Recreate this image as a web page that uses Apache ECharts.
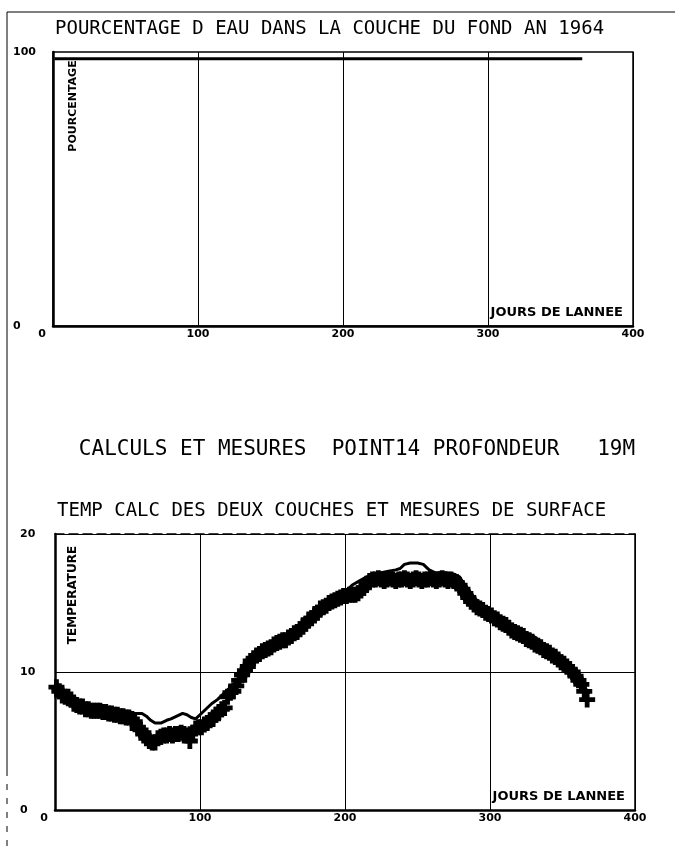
<!DOCTYPE html>
<html>
<head>
<meta charset="utf-8">
<script src="https://cdn.jsdelivr.net/npm/echarts@6/dist/echarts.min.js"></script>
<style>
html,body{margin:0;padding:0;background:#fff;}
#chartContainer{width:675px;height:848px;}
</style>
</head>
<body>
<div id="chartContainer"></div>
<script>
// pourcentage d'eau dans la couche du fond (jour, %)
var pourcentage=[[1,97.5],[100,97.5],[200,97.5],[300,97.5],[365,97.5]];

// temperature calculee (jour, degres)
var tempCalc=[[1,8.9],[5,8.4],[10,8.0],[15,7.7],[20,7.6],[25,7.4],[30,7.3],[35,7.2],[40,7.2],[45,7.1],
	[50,7.1],[55,7.0],[60,7.0],[63,6.8],[66,6.5],[69,6.3],[73,6.3],[77,6.5],[80,6.6],[84,6.8],
	[88,7.0],[91,6.9],[94,6.7],[97,6.6],[100,6.9],[104,7.3],[108,7.7],[112,8.0],[116,8.4],[120,8.8],
	[124,9.2],[128,9.7],[132,10.2],[136,10.8],[140,11.2],[145,11.6],[150,11.9],[155,12.2],[160,12.5],[165,12.8],
	[170,13.3],[175,13.8],[180,14.2],[185,14.7],[190,15.1],[195,15.5],[200,15.8],[205,16.3],[210,16.6],[215,16.9],
	[220,17.1],[225,17.2],[230,17.3],[235,17.4],[238,17.5],[241,17.8],[245,17.9],[250,17.9],[254,17.8],[258,17.4],
	[262,17.2],[266,17.2],[270,17.2],[275,17.1],[279,16.9],[282,16.4],[285,16.0],[289,15.4],[293,15.0],[297,14.7],
	[300,14.4],[305,14.0],[310,13.6],[315,13.3],[320,13.0],[325,12.8],[330,12.6],[335,12.2],[340,11.8],[345,11.4],
	[350,11.0],[355,10.5],[360,9.8],[365,9.0],[368,8.4]];

// mesures de surface (jour, degres)
var tempMesures=[[1,8.9],[3,8.6],[5,8.3],[7,8.2],[9,8.2],[11,8.0],[13,7.7],[15,7.6],[17,7.5],[19,7.5],
	[21,7.3],[23,7.3],[25,7.2],[27,7.2],[29,7.2],[31,7.2],[33,7.1],[35,7.1],[37,7.0],[39,7.0],
	[41,6.9],[43,6.9],[45,6.8],[47,6.8],[49,6.7],[51,6.7],[53,6.6],[55,6.4],[57,5.9],[59,5.8],
	[61,5.6],[63,5.2],[65,5.0],[67,4.9],[69,4.9],[71,5.2],[73,5.3],[75,5.4],[77,5.4],[79,5.5],
	[81,5.4],[83,5.5],[85,5.5],[87,5.6],[89,5.5],[91,5.4],[93,5.0],[95,5.6],[97,5.9],[99,6.0],
	[101,6.0],[103,6.2],[105,6.3],[107,6.5],[109,6.6],[111,6.9],[113,7.1],[115,7.3],[117,7.4],[119,8.2],
	[121,8.5],[123,8.6],[125,9.0],[127,9.4],[129,9.8],[131,10.1],[133,10.4],[135,10.8],[137,11.0],[139,11.2],
	[141,11.3],[143,11.5],[145,11.6],[147,11.7],[149,11.8],[151,12.0],[153,12.1],[155,12.2],[157,12.3],[159,12.3],
	[161,12.5],[163,12.6],[165,12.8],[167,12.9],[169,13.1],[171,13.3],[173,13.5],[175,13.8],[177,13.9],[179,14.1],
	[181,14.3],[183,14.6],[185,14.7],[187,14.8],[189,15.0],[191,15.1],[193,15.2],[195,15.3],[197,15.4],[199,15.5],
	[201,15.5],[203,15.6],[205,15.6],[207,15.6],[209,15.7],[211,15.9],[213,16.1],[215,16.4],[217,16.6],[219,16.7],
	[221,16.7],[223,16.8],[225,16.7],[227,16.6],[229,16.7],[231,16.8],[233,16.7],[235,16.6],[237,16.7],[239,16.7],
	[241,16.8],[243,16.7],[245,16.6],[247,16.7],[249,16.8],[251,16.7],[253,16.6],[255,16.7],[257,16.7],[259,16.8],
	[261,16.7],[263,16.6],[265,16.7],[267,16.8],[269,16.7],[271,16.6],[273,16.7],[275,16.6],[277,16.5],[279,16.3],
	[281,16.0],[283,15.7],[285,15.4],[287,15.1],[289,14.9],[291,14.7],[293,14.6],[295,14.5],[297,14.3],[299,14.2],
	[301,14.1],[303,13.9],[305,13.8],[307,13.6],[309,13.5],[311,13.4],[313,13.2],[315,13.0],[317,12.9],[319,12.8],
	[321,12.7],[323,12.6],[325,12.4],[327,12.3],[329,12.2],[331,12.0],[333,11.9],[335,11.8],[337,11.6],[339,11.5],
	[341,11.4],[343,11.2],[345,11.1],[347,10.9],[349,10.7],[351,10.6],[353,10.4],[355,10.2],[357,10.0],[359,9.7],
	[361,9.4],[363,9.1],[365,8.6],[367,8.0]];

var joursTicks=[0,100,200,300,400];

var titreHaut='POURCENTAGE D EAU DANS LA COUCHE DU FOND AN 1964';
var titreMilieu='CALCULS ET MESURES  POINT14 PROFONDEUR   19M';
var titreBas='TEMP CALC DES DEUX COUCHES ET MESURES DE SURFACE';

// croix "+" epaisse pour les mesures
var croix='path://M3.5,0h3v10h-3zM0,3.5h10v3h-10z';

function axeJours(gridIndex){
	return {
		gridIndex:gridIndex,type:'value',min:joursTicks[0],max:joursTicks[joursTicks.length-1],interval:100,
		axisLine:{onZero:false,lineStyle:{color:'#000',width:2.5}},
		axisTick:{show:false},
		splitLine:{show:true,lineStyle:{color:'#000',width:1}},
		axisLabel:{
			color:'#000',fontSize:11,fontWeight:'bold',fontFamily:'DejaVu Sans',margin:3,
			formatter:function(v){return v===0?'{z|0}':String(v);},
			rich:{z:{padding:[0,22,0,0],color:'#000',fontSize:11,fontWeight:'bold',fontFamily:'DejaVu Sans'}}
		}
	};
}

function texte(t,x,y,taille,famille,poids,align,rot){
	return {
		type:'text',x:x,y:y,rotation:rot||0,
		style:{text:t,fill:'#000',fontSize:taille,fontFamily:famille,fontWeight:poids,
			align:align,verticalAlign:'middle'}
	};
}

var dom=document.getElementById("chartContainer");
var myChart=echarts.init(dom,null,{renderer:'canvas'});
var option=null;
option={
	animation:false,
	backgroundColor:'#fff',
	grid:[
		{left:53,top:52,width:580,height:274,show:true,borderColor:'#000',borderWidth:1.5},
		{left:55,top:534,width:580,height:276,show:false}
	],
	xAxis:[
		axeJours(0),
		axeJours(1),
		{gridIndex:1,type:'value',position:'top',min:0,max:400,
			axisLine:{onZero:false,lineStyle:{color:'#000',width:1.5,type:[9,5]}},
			axisTick:{show:false},axisLabel:{show:false},splitLine:{show:false}}
	],
	yAxis:[
		{gridIndex:0,type:'value',min:0,max:100,interval:100,
			axisLine:{onZero:false,lineStyle:{color:'#000',width:2.5}},
			axisTick:{show:false},splitLine:{show:false},
			axisLabel:{color:'#000',fontSize:11,fontWeight:'bold',fontFamily:'DejaVu Sans',
				align:'left',margin:40,padding:[0,0,8,0]}},
		{gridIndex:1,type:'value',min:0,max:20,interval:10,
			axisLine:{onZero:false,lineStyle:{color:'#000',width:2.5}},
			axisTick:{show:false},
			splitLine:{show:true,lineStyle:{color:'#000',width:1}},
			axisLabel:{color:'#000',fontSize:11,fontWeight:'bold',fontFamily:'DejaVu Sans',
				align:'left',margin:35,padding:[0,0,8,0]}},
		{gridIndex:1,type:'value',position:'right',min:0,max:20,
			axisLine:{onZero:false,lineStyle:{color:'#000',width:1.5}},
			axisTick:{show:false},axisLabel:{show:false},splitLine:{show:false}}
	],
	graphic:[
		{type:'line',shape:{x1:7,y1:12,x2:675,y2:12},style:{stroke:'#000',lineWidth:1}},
		{type:'line',shape:{x1:7,y1:12,x2:7,y2:770},style:{stroke:'#000',lineWidth:1}},
		{type:'line',shape:{x1:7,y1:770,x2:7,y2:848},style:{stroke:'#000',lineWidth:1,lineDash:[6,8]}},
		texte(titreHaut,55,29,19,'DejaVu Sans Mono','normal','left'),
		texte(titreMilieu,357,450,21,'DejaVu Sans Mono','normal','center'),
		texte(titreBas,57,511,19,'DejaVu Sans Mono','normal','left'),
		texte('POURCENTAGE',73,106,11,'DejaVu Sans','bold','center',Math.PI/2),
		texte('TEMPERATURE',73,595,12,'DejaVu Sans','bold','center',Math.PI/2),
		texte('JOURS DE LANNEE',623,313,13,'DejaVu Sans','bold','right'),
		texte('JOURS DE LANNEE',625,797,13,'DejaVu Sans','bold','right')
	],
	series:[
		{
			name:'pourcentage',type:'line',xAxisIndex:0,yAxisIndex:0,
			data:pourcentage,symbol:'none',
			lineStyle:{color:'#000',width:3}
		},
		{
			name:'mesures',type:'scatter',xAxisIndex:1,yAxisIndex:1,
			data:tempMesures,symbol:croix,symbolSize:16,
			itemStyle:{color:'#000',opacity:1}
		},
		{
			name:'calcul',type:'line',xAxisIndex:1,yAxisIndex:1,
			data:tempCalc,symbol:'none',
			lineStyle:{color:'#000',width:3}
		}
	]
};
if (option && typeof option === "object") {
	myChart.setOption(option, true);
}
</script>
</body>
</html>
